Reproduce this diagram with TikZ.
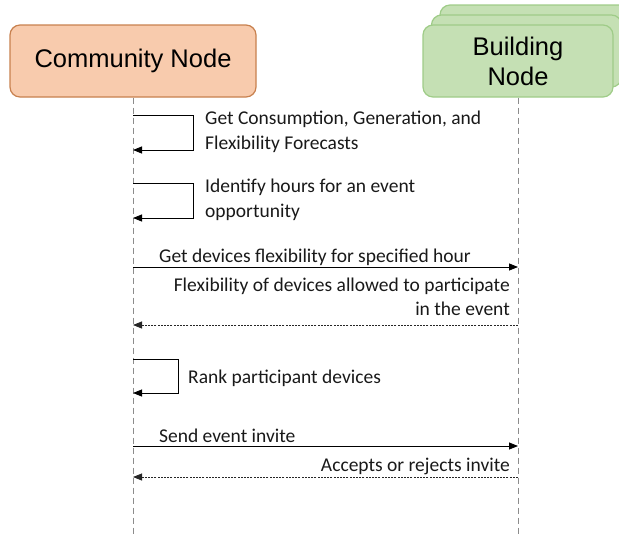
\documentclass[tikz,border=0pt]{standalone}
\usepackage{fontspec}
\setmainfont{Carlito}
\newfontfamily\headfont{Liberation Sans}
\usetikzlibrary{arrows.meta}

\definecolor{commfill}{HTML}{F8CBAD}
\definecolor{commline}{HTML}{C8814F}
\definecolor{bldfill}{HTML}{C5E0B4}
\definecolor{bldline}{HTML}{9FCC88}
\definecolor{lifegray}{HTML}{8C8C8C}

\tikzset{
  actor/.style={rounded corners=10pt, line width=1.2pt, align=center,
    font=\headfont\fontsize{25.5}{30}\selectfont, inner sep=0pt},
  comm/.style={actor, draw=commline, fill=commfill, minimum width=246pt, minimum height=72pt},
  bld/.style={actor, draw=bldline, fill=bldfill, minimum width=190pt, minimum height=72pt},
  life/.style={draw=lifegray, line width=1pt, dash pattern=on 6pt off 4pt},
  msg/.style={draw=black, line width=0.8pt, -{Triangle[length=9pt,width=7pt]}},
  reply/.style={draw=black!85, line width=0.8pt, dash pattern=on 2pt off 1.2pt,
    -{Triangle[length=9pt,width=7pt]}},
  lbl/.style={font=\fontsize{19.5}{24.5}\selectfont, inner sep=0pt, text=black!90}
}

\begin{document}
\begin{tikzpicture}[x=1pt,y=-1pt]
\useasboundingbox (0,0) rectangle (619,536);

% participants
\node[comm] (cn) at (133,61) {Community Node};
\node[bld] (bn3) at (535,41) {};
\node[bld] (bn2) at (526.5,51) {};
\node[bld] (bn) at (518,61) {Building\\Node};

% lifelines
\coordinate (cend) at (133,536);
\coordinate (bend) at (518,536);
\draw[life] (cn.south) -- (cend);
\draw[life] (bn.south) -- (bend);

% points on the lifelines
\coordinate (c1a) at (133,115);  \coordinate (c1b) at (133,150);
\coordinate (c2a) at (133,183);  \coordinate (c2b) at (133,218);
\coordinate (c3)  at (133,267);  \coordinate (b3)  at (518,267);
\coordinate (c4)  at (133,325);  \coordinate (b4)  at (518,325);
\coordinate (c5a) at (133,359);  \coordinate (c5b) at (133,393);
\coordinate (c6)  at (133,446);  \coordinate (b6)  at (518,446);
\coordinate (c7)  at (133,477);  \coordinate (b7)  at (518,477);

% self calls
\draw[msg] (c1a) -- ++(60,0) |- (c1b);
\node[lbl, anchor=west, align=left] (t1) at (205,132)
  {Get Consumption, Generation, and\\Flexibility Forecasts};

\draw[msg] (c2a) -- ++(60,0) |- (c2b);
\node[lbl, anchor=west, align=left] (t2) at (205,200)
  {Identify hours for an event\\opportunity};

% request / reply
\draw[msg] (c3) -- (b3);
\node[lbl, anchor=base west] (t3) at (159,262) {Get devices flexibility for specified hour};

\draw[reply] (b4) -- (c4);
\node[lbl, anchor=east, align=right] (t4) at (510,297)
  {Flexibility of devices allowed to participate\\in the event};

\draw[msg] (c5a) -- ++(45,0) |- (c5b);
\node[lbl, anchor=west] (t5) at (188,378) {Rank participant devices};

\draw[msg] (c6) -- (b6);
\node[lbl, anchor=base west] (t6) at (159,442) {Send event invite};

\draw[reply] (b7) -- (c7);
\node[lbl, anchor=base east] (t7) at (510,471) {Accepts or rejects invite};
\end{tikzpicture}
\end{document}
